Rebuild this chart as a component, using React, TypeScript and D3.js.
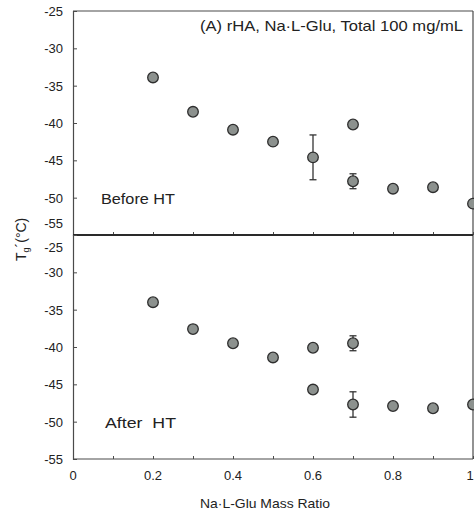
import React, { useEffect, useRef } from "react";
import * as d3 from "d3";

const xBefore = [0.2, 0.3, 0.4, 0.5, 0.6, 0.7, 0.7, 0.8, 0.9, 1.0];
const yBefore = [-33.9, -38.5, -40.9, -42.5, -44.6, -40.2, -47.8, -48.8, -48.6, -50.8];
const errBefore = [0, 0, 0, 0, 3.0, 0, 1.0, 0, 0, 0];

const xAfter = [0.2, 0.3, 0.4, 0.5, 0.6, 0.6, 0.7, 0.7, 0.8, 0.9, 1.0];
const yAfter = [-34.0, -37.6, -39.5, -41.4, -40.1, -45.7, -39.5, -47.7, -47.9, -48.2, -47.7];
const errAfter = [0, 0, 0, 0, 0, 0, 1.0, 1.7, 0, 0, 0];

const yTickValues = [-25, -30, -35, -40, -45, -50, -55];
const xMinorTicks = [0, 0.1, 0.2, 0.3, 0.4, 0.5, 0.6, 0.7, 0.8, 0.9, 1.0];
const xLabelTicks = [0, 0.2, 0.4, 0.6, 0.8, 1.0];

const titleText = "(A) rHA, Na·L-Glu, Total 100 mg/mL";
const panelLabels = ["Before HT", "After  HT"];
const xTitle = "Na·L-Glu Mass Ratio";

const W = 474;
const H = 517;
const left = 73;
const right = 473;
const top = 11;
const mid = 235;
const bottom = 459;

export default function App() {
  const ref = useRef<SVGSVGElement | null>(null);

  useEffect(() => {
    const svg = d3.select(ref.current);
    svg.selectAll("*").remove();
    const font = "Arial, 'Liberation Sans', sans-serif";
    const axisColor = "#4a4a4a";
    const textColor = "#222";

    const x = d3.scaleLinear().domain([0, 1]).range([left, right]);
    const yTop = d3.scaleLinear().domain([-55, -25]).range([mid, top]);
    const yBot = d3.scaleLinear().domain([-55, -25]).range([bottom, mid]);

    const panels = [
      { y: yTop, xs: xBefore, ys: yBefore, es: errBefore, label: panelLabels[0], labelY: 204, labelX: 101, labelW: 74, isTop: true },
      { y: yBot, xs: xAfter, ys: yAfter, es: errAfter, label: panelLabels[1], labelY: 428, labelX: 105, labelW: 71, isTop: false },
    ];

    // frame: top border and right border
    svg.append("line").attr("x1", left).attr("x2", right).attr("y1", top).attr("y2", top)
      .attr("stroke", axisColor).attr("stroke-width", 1.2);
    svg.append("line").attr("x1", right).attr("x2", right).attr("y1", top).attr("y2", bottom)
      .attr("stroke", axisColor).attr("stroke-width", 1.2);

    panels.forEach((p) => {
      // y axis
      const yAxis = d3.axisLeft(p.y).tickValues(yTickValues).tickSize(-4).tickPadding(10)
        .tickFormat((d) => String(d));
      const g = svg.append("g").attr("transform", `translate(${left},0)`).call(yAxis);
      g.select(".domain").attr("stroke", axisColor).attr("stroke-width", 1.2);
      g.selectAll(".tick line").attr("stroke", axisColor);
      g.selectAll(".tick text")
        .attr("font-family", font).attr("font-size", 13).attr("fill", textColor)
        .attr("dy", (d: any) => {
          if (p.isTop && d === -55) return "-0.55em";
          if (!p.isTop && d === -25) return "1.3em";
          return "0.35em";
        });

      // x axis ticks (inward)
      const baseY = p.isTop ? mid : bottom;
      const xAxis = d3.axisBottom(x).tickValues(xMinorTicks).tickSize(-3).tickFormat(() => "");
      const gx = svg.append("g").attr("transform", `translate(0,${baseY})`).call(xAxis);
      gx.select(".domain").remove();
      gx.selectAll(".tick line").attr("stroke", axisColor);
      svg.append("line").attr("x1", left).attr("x2", right).attr("y1", baseY).attr("y2", baseY)
        .attr("stroke", p.isTop ? "#2a2a2a" : axisColor).attr("stroke-width", p.isTop ? 2 : 1.2);

      // error bars
      const data = p.xs.map((xv, i) => ({ x: xv, y: p.ys[i], e: p.es[i] }));
      const eb = svg.append("g").attr("stroke", "#333").attr("stroke-width", 1.3);
      data.filter((d) => d.e > 0).forEach((d) => {
        const cx = x(d.x);
        const y1 = p.y(d.y + d.e);
        const y2 = p.y(d.y - d.e);
        eb.append("line").attr("x1", cx).attr("x2", cx).attr("y1", y1).attr("y2", y2);
        eb.append("line").attr("x1", cx - 3.5).attr("x2", cx + 3.5).attr("y1", y1).attr("y2", y1);
        eb.append("line").attr("x1", cx - 3.5).attr("x2", cx + 3.5).attr("y1", y2).attr("y2", y2);
      });

      // points
      svg.append("g").selectAll("circle").data(data).join("circle")
        .attr("cx", (d) => x(d.x)).attr("cy", (d) => p.y(d.y)).attr("r", 5.3)
        .attr("fill", "#8c918e").attr("stroke", "#2e2e2e").attr("stroke-width", 1.3);

      // panel label
      svg.append("text").attr("x", p.labelX).attr("y", p.labelY)
        .attr("font-family", font).attr("font-size", 14.5).attr("fill", textColor)
        .attr("textLength", p.labelW).attr("lengthAdjust", "spacingAndGlyphs")
        .attr("xml:space", "preserve").style("white-space", "pre")
        .text(p.label);
    });

    // x labels
    svg.append("g").selectAll("text").data(xLabelTicks).join("text")
      .attr("x", (d) => x(d) - (d === 1 ? 3 : 0)).attr("y", 480).attr("text-anchor", "middle")
      .attr("font-family", font).attr("font-size", 13).attr("fill", textColor)
      .text((d) => String(d));

    // x title
    svg.append("text").attr("x", 200).attr("y", 508)
      .attr("font-family", font).attr("font-size", 13).attr("fill", textColor)
      .attr("textLength", 130).attr("lengthAdjust", "spacingAndGlyphs")
      .text(xTitle);

    // y title
    const yt = svg.append("text")
      .attr("transform", "translate(26,261) rotate(-90)")
      .attr("font-family", font).attr("font-size", 14).attr("fill", textColor);
    yt.append("tspan").text("T");
    yt.append("tspan").attr("font-size", 9).attr("dy", 3).text("g");
    yt.append("tspan").attr("dy", -3).text("´(°C)");

    // title
    svg.append("text").attr("x", 200).attr("y", 31)
      .attr("font-family", font).attr("font-size", 14.5).attr("fill", textColor)
      .attr("textLength", 263).attr("lengthAdjust", "spacingAndGlyphs")
      .text(titleText);
  }, []);

  return (
    <svg
      ref={ref}
      width={W}
      height={H}
      style={{ position: "absolute", left: 0, top: 0, background: "#fff" }}
    />
  );
}
